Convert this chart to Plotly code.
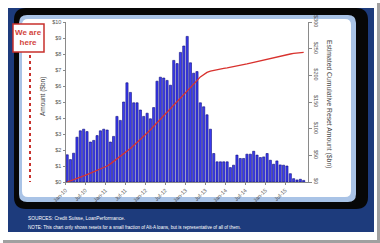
import pandas as pd
import plotly.graph_objects as go

W, H = 380, 243

# ---------------- data ----------------
months = pd.date_range("2010-01-01", periods=72, freq="MS")
monthly_reset = [
    1.7, 1.4, 1.8, 2.8, 3.2, 3.3, 3.15, 2.5, 2.6, 2.9, 3.2, 3.3,
    3.25, 2.5, 2.85, 4.1, 3.85, 5.0, 6.2, 5.6, 4.95, 4.95, 4.5, 4.1,
    4.3, 3.95, 4.65, 6.3, 6.55, 6.5, 6.35, 6.05, 7.6, 7.4, 8.1, 8.5,
    9.1, 7.45, 6.8, 6.9, 4.95, 4.7, 4.2, 3.3, 1.78, 1.26, 1.26, 1.26,
    1.26, 0.9, 1.05, 1.68, 1.47, 1.47, 1.74, 1.74, 1.92, 1.68, 1.53, 1.57,
    1.78, 1.36, 1.11, 1.32, 1.07, 1.05, 1.0, 0.52, 0.21, 0.13, 0.17, 0.10,
]
cumulative_reset = [
    0, 2, 4.5, 7, 9, 11.5, 14, 16.5, 19, 22, 24.5, 27,
    30, 34, 38.5, 43, 47.5, 52, 57.5, 63, 68.5, 74, 80, 86,
    92, 98, 104.5, 110.5, 117, 123.5, 130, 136.5, 142.5, 149, 156, 163,
    169.5, 176.5, 183, 190, 197, 202, 205.5, 208, 209.5, 210.5, 211.5, 213,
    214, 215, 216, 217, 218.5, 220, 221.5, 223, 224.5, 226, 227.5, 229,
    230.5, 232, 233.5, 235, 236.5, 237.5, 239, 240, 241, 241.5, 242.5, 243,
]
tick_dates = ["2010-01-01", "2010-07-01", "2011-01-01", "2011-07-01", "2012-01-01",
              "2012-07-01", "2013-01-01", "2013-07-01", "2014-01-01", "2014-07-01",
              "2015-01-01", "2015-07-01"]
tick_labels = ["Jan-10", "Jul-10", "Jan-11", "Jul-11", "Jan-12", "Jul-12",
               "Jan-13", "Jul-13", "Jan-14", "Jul-14", "Jan-15", "Jul-15"]
left_ticks = list(range(0, 11))
left_labels = [f"${v}" for v in left_ticks]
right_ticks = [0, 50, 100, 150, 200, 250, 300]
right_labels = [f"${v}" for v in right_ticks]

# ---------------- helpers (pixel -> paper) ----------------
def px(x):
    return x / W

def py(y):
    return 1 - y / H

def rect(x0, y0, x1, y1, color):
    return dict(type="rect", xref="paper", yref="paper",
                x0=px(x0), x1=px(x1), y0=py(y1), y1=py(y0),
                fillcolor=color, line=dict(width=0), layer="below")

def rrect(x0, y0, x1, y1, r, color):
    def P(x, y):
        return f"{px(x):.5f},{py(y):.5f}"
    path = (f"M{P(x0 + r, y0)} L{P(x1 - r, y0)} Q{P(x1, y0)} {P(x1, y0 + r)} "
            f"L{P(x1, y1 - r)} Q{P(x1, y1)} {P(x1 - r, y1)} "
            f"L{P(x0 + r, y1)} Q{P(x0, y1)} {P(x0, y1 - r)} "
            f"L{P(x0, y0 + r)} Q{P(x0, y0)} {P(x0 + r, y0)} Z")
    return dict(type="path", xref="paper", yref="paper", path=path,
                fillcolor=color, line=dict(width=0), layer="below")

def note(x, y, text, size, color, angle=0, xanchor="center", bold=False):
    return dict(x=px(x), y=py(y), xref="paper", yref="paper", text=text,
                textangle=angle, showarrow=False, xanchor=xanchor, yanchor="middle",
                align="center", font=dict(family=font, size=size, color=color))

# ---------------- figure ----------------
fig = go.Figure()
fig.add_trace(go.Bar(
    x=months, y=monthly_reset, xperiod="M1", xperiodalignment="middle",
    marker=dict(color="#3b3bf2", line=dict(color="#0c0c78", width=0.6)),
    yaxis="y", showlegend=False,
))
fig.add_trace(go.Scatter(
    x=months, y=cumulative_reset, xperiod="M1", xperiodalignment="middle",
    mode="lines", line=dict(color="#d8322e", width=1.3),
    yaxis="y2", showlegend=False,
))

font = "Arial, Liberation Sans, sans-serif"
axis_col = "#8a8a8a"
txt_col = "#555555"

shapes = [
    rect(3, 3, 380, 243, "#a0a0a0"),
    rect(0, 0, 377, 240, "#ffffff"),
    rect(8, 8, 374, 232, "#1d3b7c"),
    rrect(14, 8, 368, 209, 12, "#070707"),
    rrect(19, 15, 356, 202, 8, "#a9c3e6"),
    rrect(22, 19, 351, 197, 6, "#ffffff"),
    # "We are here" marker
    dict(type="line", xref="paper", yref="paper", x0=px(30), x1=px(30), y0=py(55), y1=py(182),
         line=dict(color="#c8312c", width=2, dash="3px,3px"), layer="above"),
    dict(type="rect", xref="paper", yref="paper", x0=px(13), x1=px(44), y0=py(52), y1=py(24),
         fillcolor="#ffffff", line=dict(color="#c8312c", width=1.5), layer="above"),
]

annotations = [
    note(28.5, 38, "<b>We are<br>here</b>", 8, "#d2433c"),
    note(43, 97, "Amount ($bn)", 6.5, "#444", angle=-90),
    note(329, 104, "Estimated Cumulative Reset Amount ($bn)", 6.8, "#444", angle=90),
    note(26, 218, "SOURCES: Credit Suisse, LoanPerformance.", 4.8, "#ffffff", xanchor="left"),
    note(26, 227.5, "NOTE: This chart only shows resets for a small fraction of Alt-A loans, "
         "but is representative of all of them.", 4.6, "#ffffff", xanchor="left"),
]

fig.update_layout(
    width=W, height=H, autosize=False,
    margin=dict(l=0, r=0, t=0, b=0, pad=0, autoexpand=False),
    paper_bgcolor="#ffffff", plot_bgcolor="rgba(0,0,0,0)",
    bargap=0.33, shapes=shapes, annotations=annotations,
    xaxis=dict(
        type="date", domain=[px(65.5), px(308)], automargin=False,
        range=["2010-01-01", "2016-01-25"],
        tickvals=tick_dates, ticktext=tick_labels, tickangle=-45,
        tickfont=dict(family=font, size=5.5, color=txt_col),
        showgrid=False, zeroline=False, showline=True, linecolor=axis_col, linewidth=1,
        ticks="outside", ticklen=2, tickcolor=axis_col,
    ),
    yaxis=dict(
        domain=[py(182), py(22)], range=[0, 10], automargin=False,
        tickvals=left_ticks, ticktext=left_labels,
        tickfont=dict(family=font, size=5.5, color=txt_col),
        showgrid=False, zeroline=False, showline=True, linecolor=axis_col, linewidth=1,
        ticks="outside", ticklen=2, tickcolor=axis_col,
    ),
    yaxis2=dict(
        overlaying="y", side="right", anchor="x", range=[0, 300], automargin=False,
        tickvals=right_ticks, ticktext=right_labels, tickangle=90,
        tickfont=dict(family=font, size=5.5, color=txt_col),
        showgrid=False, zeroline=False, showline=True, linecolor=axis_col, linewidth=1,
        ticks="outside", ticklen=3, tickcolor=axis_col,
    ),
)

fig.write_html("out.html", config={"displayModeBar": False})
